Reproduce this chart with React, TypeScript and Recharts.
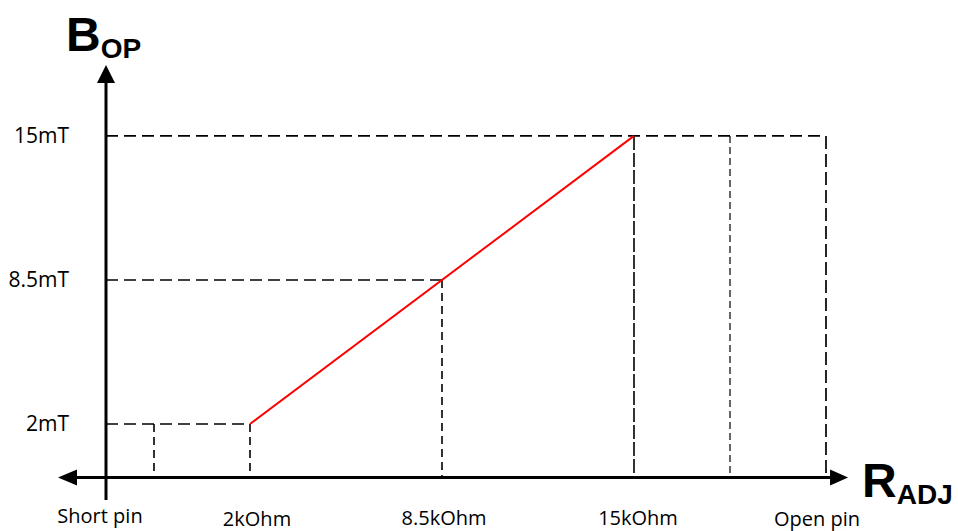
import { LineChart, Line, XAxis, YAxis, ReferenceLine } from 'recharts';

// schematic positions on the R_ADJ axis and their labels
const positions = [0, 3, 7, 11, 15];
const positionLabels = ['Short pin', '2kOhm', '8.5kOhm', '15kOhm', 'Open pin'];

// B_OP ticks (mT)
const bopTicks = [2, 8.5, 15];
const bopLabels = ['2mT', '8.5mT', '15mT'];

// red characteristic
const curvePos = [3, 11];
const curveBop = [2, 15];

// dashed guides: horizontals (level, runs to position), verticals (position, up to level)
const hLevels = [2, 8.5, 15];
const hEnds = [3, 7, 15];
const vPos = [1, 3, 7, 11, 13, 15];
const vTops = [2, 2, 8.5, 15, 15, 15];

const data = curvePos.map((p, i) => ({ pos: p, bop: curveBop[i] }));

// layout / style
const X_DOMAIN: [number, number] = [-1, 15.5];
const Y_DOMAIN: [number, number] = [-1.43, 18.2];
const AXIS_LEVEL = -0.415;
const X_ARROW_END = 15.46;
const FONT = '"Open Sans", sans-serif';
const BIG = '"Liberation Sans", Arial, sans-serif';
const labelDx = [-6, 7, 2, 4, -9];
const labelBase = [523, 526, 525, 525, 526];
const vDash = ['8 5', '8 5', '8 5', '14 3', '7 4', '13 5'];
const vWidth = [1.6, 1.6, 1.6, 1.6, 1.2, 1.7];

const XTick = (props: any) => {
  const i = positions.indexOf(props.payload.value);
  return (
    <text
      x={props.x + labelDx[i]}
      y={labelBase[i]}
      textAnchor="middle"
      fontFamily={FONT}
      fontSize={20}
      fill="#000"
    >
      {positionLabels[i]}
    </text>
  );
};

const YTick = (props: any) => {
  const i = bopTicks.indexOf(props.payload.value);
  return (
    <text
      x={69}
      y={props.y + 7}
      textAnchor="end"
      fontFamily={FONT}
      fontSize={21}
      fill="#000"
    >
      {bopLabels[i]}
    </text>
  );
};

const XAxisArrow = (p: any) => {
  const { x1, y1, x2 } = p;
  return (
    <g>
      <line x1={x1 + 10} y1={y1} x2={x2 - 10} y2={y1} stroke="#000" strokeWidth={3} />
      <polygon points={`${x1},${y1} ${x1 + 19},${y1 - 8} ${x1 + 19},${y1 + 8}`} fill="#000" />
      <polygon points={`${x2},${y1} ${x2 - 18},${y1 - 8} ${x2 - 18},${y1 + 8}`} fill="#000" />
      <text x={x2 + 14} y={y1 + 19} fontFamily={BIG} fontWeight="bold" fontSize={48} fill="#000">
        R
        <tspan fontSize={28} dy={7}>ADJ</tspan>
      </text>
    </g>
  );
};

const YAxisArrow = (p: any) => {
  const { x1, y1, y2 } = p;
  const top = Math.min(y1, y2);
  const bottom = Math.max(y1, y2);
  return (
    <g>
      <line x1={x1} y1={bottom} x2={x1} y2={top + 10} stroke="#000" strokeWidth={3} />
      <polygon points={`${x1},${top} ${x1 - 9},${top + 18} ${x1 + 9},${top + 18}`} fill="#000" />
      <text x={x1 - 40} y={top - 14} fontFamily={BIG} fontWeight="bold" fontSize={48} fill="#000">
        B
        <tspan fontSize={28} dy={7}>OP</tspan>
      </text>
    </g>
  );
};

export default function App() {
  return (
    <div style={{ position: 'absolute', left: 0, top: 0, background: '#fff' }}>
      <LineChart
        width={958}
        height={531}
        data={data}
        margin={{ top: 65, right: 108, bottom: 0, left: 0 }}
      >
        <XAxis
          dataKey="pos"
          type="number"
          domain={X_DOMAIN}
          ticks={positions}
          allowDataOverflow
          axisLine={false}
          tickLine={false}
          height={31}
          tick={<XTick />}
          interval={0}
        />
        <YAxis
          type="number"
          domain={Y_DOMAIN}
          ticks={bopTicks}
          allowDataOverflow
          axisLine={false}
          tickLine={false}
          width={58}
          tick={<YTick />}
          interval={0}
        />
        {hLevels.map((lv, i) => (
          <ReferenceLine
            key={'h' + i}
            segment={[
              { x: 0, y: lv },
              { x: hEnds[i], y: lv },
            ]}
            stroke="#000"
            strokeWidth={1.6}
            strokeDasharray="12 6"
          />
        ))}
        {vPos.map((x, i) => (
          <ReferenceLine
            key={'v' + i}
            segment={[
              { x, y: vTops[i] },
              { x, y: AXIS_LEVEL },
            ]}
            stroke="#000"
            strokeWidth={vWidth[i]}
            strokeDasharray={vDash[i]}
          />
        ))}
        <ReferenceLine
          segment={[
            { x: X_DOMAIN[0], y: AXIS_LEVEL },
            { x: X_ARROW_END, y: AXIS_LEVEL },
          ]}
          shape={XAxisArrow}
        />
        <ReferenceLine
          segment={[
            { x: 0, y: Y_DOMAIN[0] },
            { x: 0, y: Y_DOMAIN[1] },
          ]}
          shape={YAxisArrow}
        />
        <Line
          dataKey="bop"
          stroke="#ff0000"
          strokeWidth={2}
          dot={false}
          isAnimationActive={false}
        />
      </LineChart>
    </div>
  );
}
